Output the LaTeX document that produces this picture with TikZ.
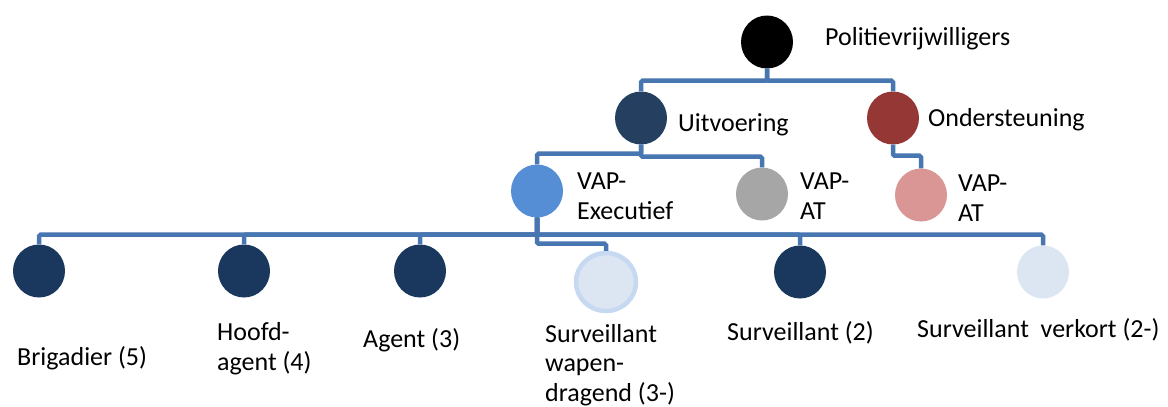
\documentclass[tikz,border=0pt]{standalone}
\usepackage{fontspec}
\setmainfont{Carlito}
\usetikzlibrary{shapes.geometric}
\definecolor{conn}{RGB}{72,118,176}
\definecolor{cuit}{HTML}{243F60}
\definecolor{cond}{HTML}{953735}
\definecolor{cvex}{HTML}{558ED5}
\definecolor{cvat}{HTML}{A6A6A6}
\definecolor{cpink}{HTML}{D99694}
\definecolor{cnavy}{HTML}{1A375E}
\definecolor{clight}{HTML}{DCE6F2}
\definecolor{cborder}{HTML}{C6D9F1}
\tikzset{
  bubble/.style={ellipse, inner sep=0pt, minimum width=52pt, minimum height=53pt, draw=none},
  link/.style={draw=conn, line width=4.5pt, rounded corners=1.5pt},
  lbl/.style={anchor=base west, inner sep=0pt, align=left, font=\fontsize{26}{29.5}\selectfont}
}
\begin{document}
\begin{tikzpicture}[x=1pt,y=-1pt]
\useasboundingbox (0,0) rectangle (1168,407);
% bubbles
\node[bubble, fill=black] (root) at (767,42) {};
\node[bubble, fill=cuit] (uit) at (641,118) {};
\node[bubble, fill=cond] (ond) at (893,118) {};
\node[bubble, fill=cvex] (vex) at (537,191) {};
\node[bubble, fill=cvat] (vat) at (762,194) {};
\node[bubble, fill=cpink] (vat2) at (921,195) {};
\node[bubble, fill=cnavy] (brig) at (39,271) {};
\node[bubble, fill=cnavy] (hoofd) at (244,271) {};
\node[bubble, fill=cnavy] (agent) at (420,271) {};
\node[bubble, fill=clight, draw=cborder, line width=4.5pt, minimum width=60pt, minimum height=58pt] (sw) at (606,282) {};
\node[bubble, fill=cnavy] (s2) at (800,272) {};
\node[bubble, fill=clight] (sv) at (1043,272) {};
% connectors
\draw[link] (root.south) -- ++(0,12) -| (uit.north);
\draw[link] (root.south) -- ++(0,12) -| (ond.north);
\draw[link] (uit.south) -- ++(0,9) -| (vex.north);
\draw[link] (uit.south) -- ++(0,12) -| (vat.north);
\draw[link] (ond.south) -- ++(0,11) -| (vat2.north);
\draw[link] (vex.south) -- ++(0,17) -| (brig.north);
\draw[link] (vex.south) -- ++(0,17) -| (hoofd.north);
\draw[link] (vex.south) -- ++(0,17) -| (agent.north);
\draw[link] (vex.south) -- ++(0,17) -| (s2.north);
\draw[link] (vex.south) -- ++(0,17) -| (sv.north);
\draw[link] (vex.south) -- ++(0,26) -| (sw.north);
% labels (base anchor = baseline of last line)
\node[lbl] (troot) at (825,45) {Politievrijwilligers};
\node[lbl] (tuit) at (678,131) {Uitvoering};
\node[lbl] (tond) at (928,126) {Ondersteuning};
\node[lbl] (tvex) at (577,219) {VAP-\\Executief};
\node[lbl] (tvat) at (800,219) {VAP-\\AT};
\node[lbl] (tvat2) at (958,221) {VAP-\\AT};
\node[lbl] (tbrig) at (17,365) {Brigadier (5)};
\node[lbl] (thoofd) at (217,370) {Hoofd-\\agent (4)};
\node[lbl] (tagent) at (363,347) {Agent (3)};
\node[lbl] (tsw) at (545,401) {Surveillant\\wapen-\\dragend (3-)};
\node[lbl] (ts2) at (727,340) {Surveillant (2)};
\node[lbl] (tsv) at (917,337) {Surveillant\ \ verkort (2-)};
\end{tikzpicture}
\end{document}
